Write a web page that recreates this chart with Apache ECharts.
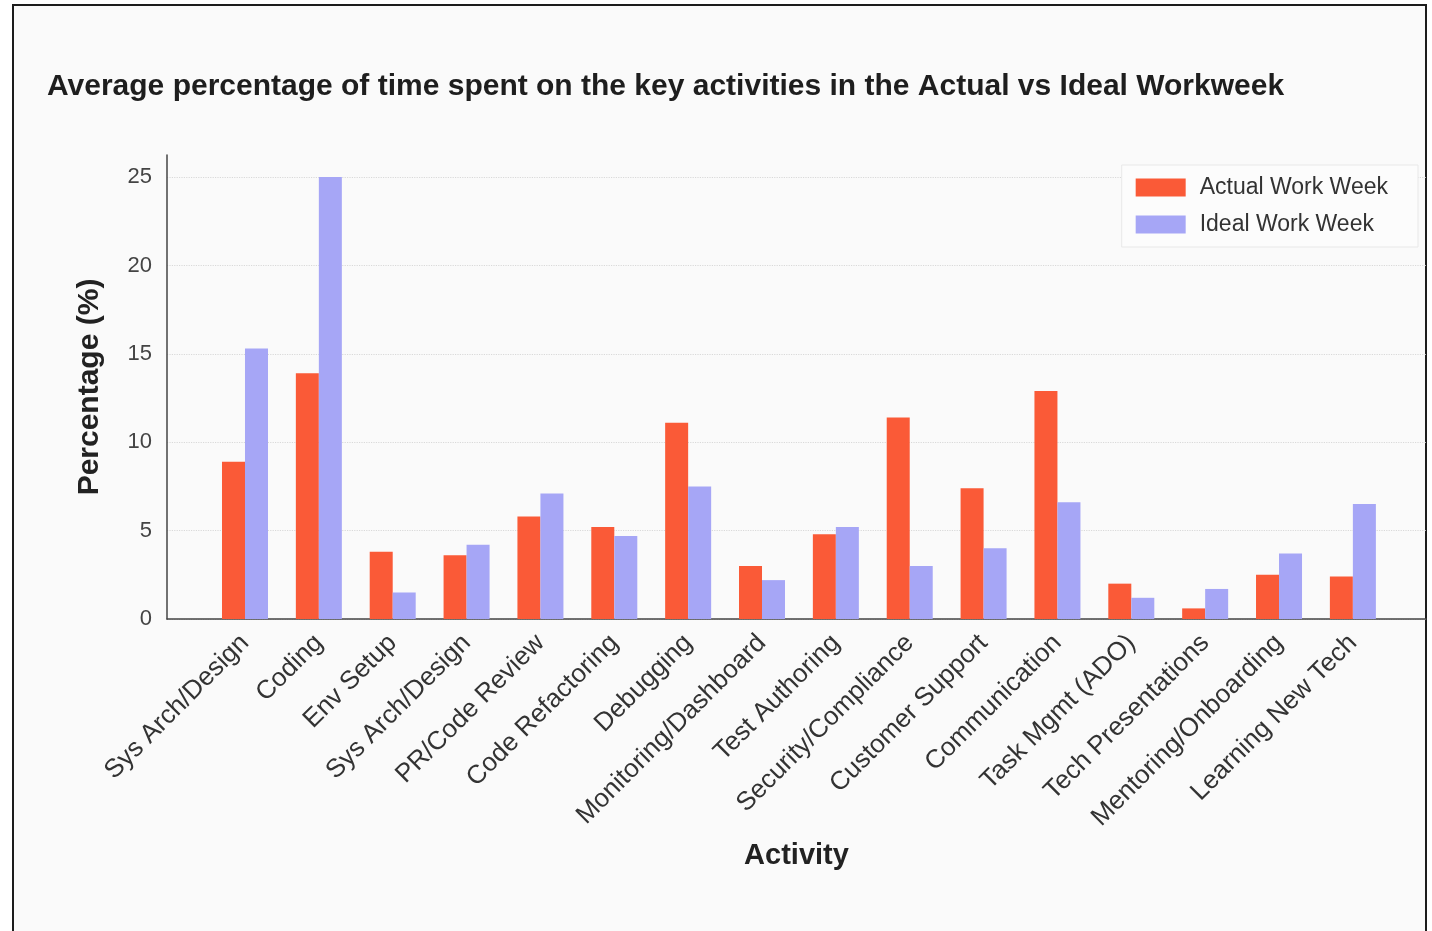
<!DOCTYPE html>
<html>
<head>
<meta charset="utf-8">
<script src="https://cdn.jsdelivr.net/npm/echarts@6/dist/echarts.min.js"></script>
<style>
  html, body { margin: 0; padding: 0; background: #ffffff; }
  #frame { position: absolute; left: 12px; top: 4px; width: 1411px; height: 940px; border: 2px solid #1c1c1c; background: #fafafa; }
  #chart { position: absolute; left: 0; top: 0; width: 1432px; height: 931px; }
</style>
</head>
<body>
<div id="frame"></div>
<div id="chart"></div>
<script>
const categories = [
  'Sys Arch/Design', 'Coding', 'Env Setup', 'Sys Arch/Design', 'PR/Code Review',
  'Code Refactoring', 'Debugging', 'Monitoring/Dashboard', 'Test Authoring',
  'Security/Compliance', 'Customer Support', 'Communication', 'Task Mgmt (ADO)',
  'Tech Presentations', 'Mentoring/Onboarding', 'Learning New Tech'
];
const actualWeek = [8.9, 13.9, 3.8, 3.6, 5.8, 5.2, 11.1, 3.0, 4.8, 11.4, 7.4, 12.9, 2.0, 0.6, 2.5, 2.4];
const idealWeek  = [15.3, 25.0, 1.5, 4.2, 7.1, 4.7, 7.5, 2.2, 5.2, 3.0, 4.0, 6.6, 1.2, 1.7, 3.7, 6.5];
const yTicks = [0, 5, 10, 15, 20, 25];

const FONT = '"Liberation Sans", Arial, sans-serif';
const chart = echarts.init(document.getElementById('chart'), null, { renderer: 'canvas' });

const idx = categories.map((_, i) => i);

chart.setOption({
  backgroundColor: 'transparent',
  animation: false,
  textStyle: { fontFamily: FONT },
  title: {
    text: 'Average percentage of time spent on the key activities in the Actual vs Ideal Workweek',
    left: 42, top: 67,
    textStyle: { fontFamily: FONT, fontSize: 30, fontWeight: 'bold', color: '#1e1e1e' }
  },
  legend: {
    orient: 'vertical',
    right: 14, top: 165,
    padding: [11, 30, 11, 14],
    itemWidth: 50, itemHeight: 18, itemGap: 14,
    backgroundColor: '#fcfcfc',
    borderColor: '#e8e8e8', borderWidth: 1,
    icon: 'rect',
    textStyle: { fontFamily: FONT, fontSize: 23, color: '#333', padding: [0, 0, 0, 9] },
    data: ['Actual Work Week', 'Ideal Work Week']
  },
  grid: { left: 167, right: 6, top: 155, bottom: 312, containLabel: false },
  xAxis: {
    type: 'value',
    min: -1.056, max: 15.99,
    name: 'Activity',
    nameLocation: 'middle',
    nameGap: 222,
    nameTextStyle: { fontFamily: FONT, fontSize: 29, fontWeight: 'bold', color: '#222' },
    axisLine: { show: true, onZero: false, lineStyle: { color: '#444', width: 1.5 } },
    axisTick: { show: false, customValues: idx },
    splitLine: { show: false },
    axisLabel: {
      customValues: idx,
      rotate: 45,
      margin: 20,
      fontFamily: FONT, fontSize: 26, color: '#333',
      formatter: v => categories[Math.round(v)]
    }
  },
  yAxis: {
    type: 'value',
    min: 0, max: 26.25,
    name: 'Percentage (%)',
    nameLocation: 'middle',
    nameGap: 62,
    nameTextStyle: { fontFamily: FONT, fontSize: 30, fontWeight: 'bold', color: '#222' },
    axisLine: { show: true, onZero: false, lineStyle: { color: '#444', width: 1.5 } },
    axisTick: { show: false, customValues: yTicks },
    splitLine: { show: true, lineStyle: { color: '#d9d9d9', type: 'dotted', width: 1.2 } },
    axisLabel: {
      customValues: yTicks,
      margin: 15,
      fontFamily: FONT, fontSize: 22, color: '#444'
    }
  },
  series: [
    {
      name: 'Actual Work Week', type: 'bar',
      barWidth: 23, barGap: '0%',
      itemStyle: { color: '#fa5a37' },
      data: actualWeek.map((v, i) => [i, v])
    },
    {
      name: 'Ideal Work Week', type: 'bar',
      barWidth: 23, barGap: '0%',
      itemStyle: { color: '#a6a6f6' },
      data: idealWeek.map((v, i) => [i, v])
    }
  ]
});
</script>
</body>
</html>
